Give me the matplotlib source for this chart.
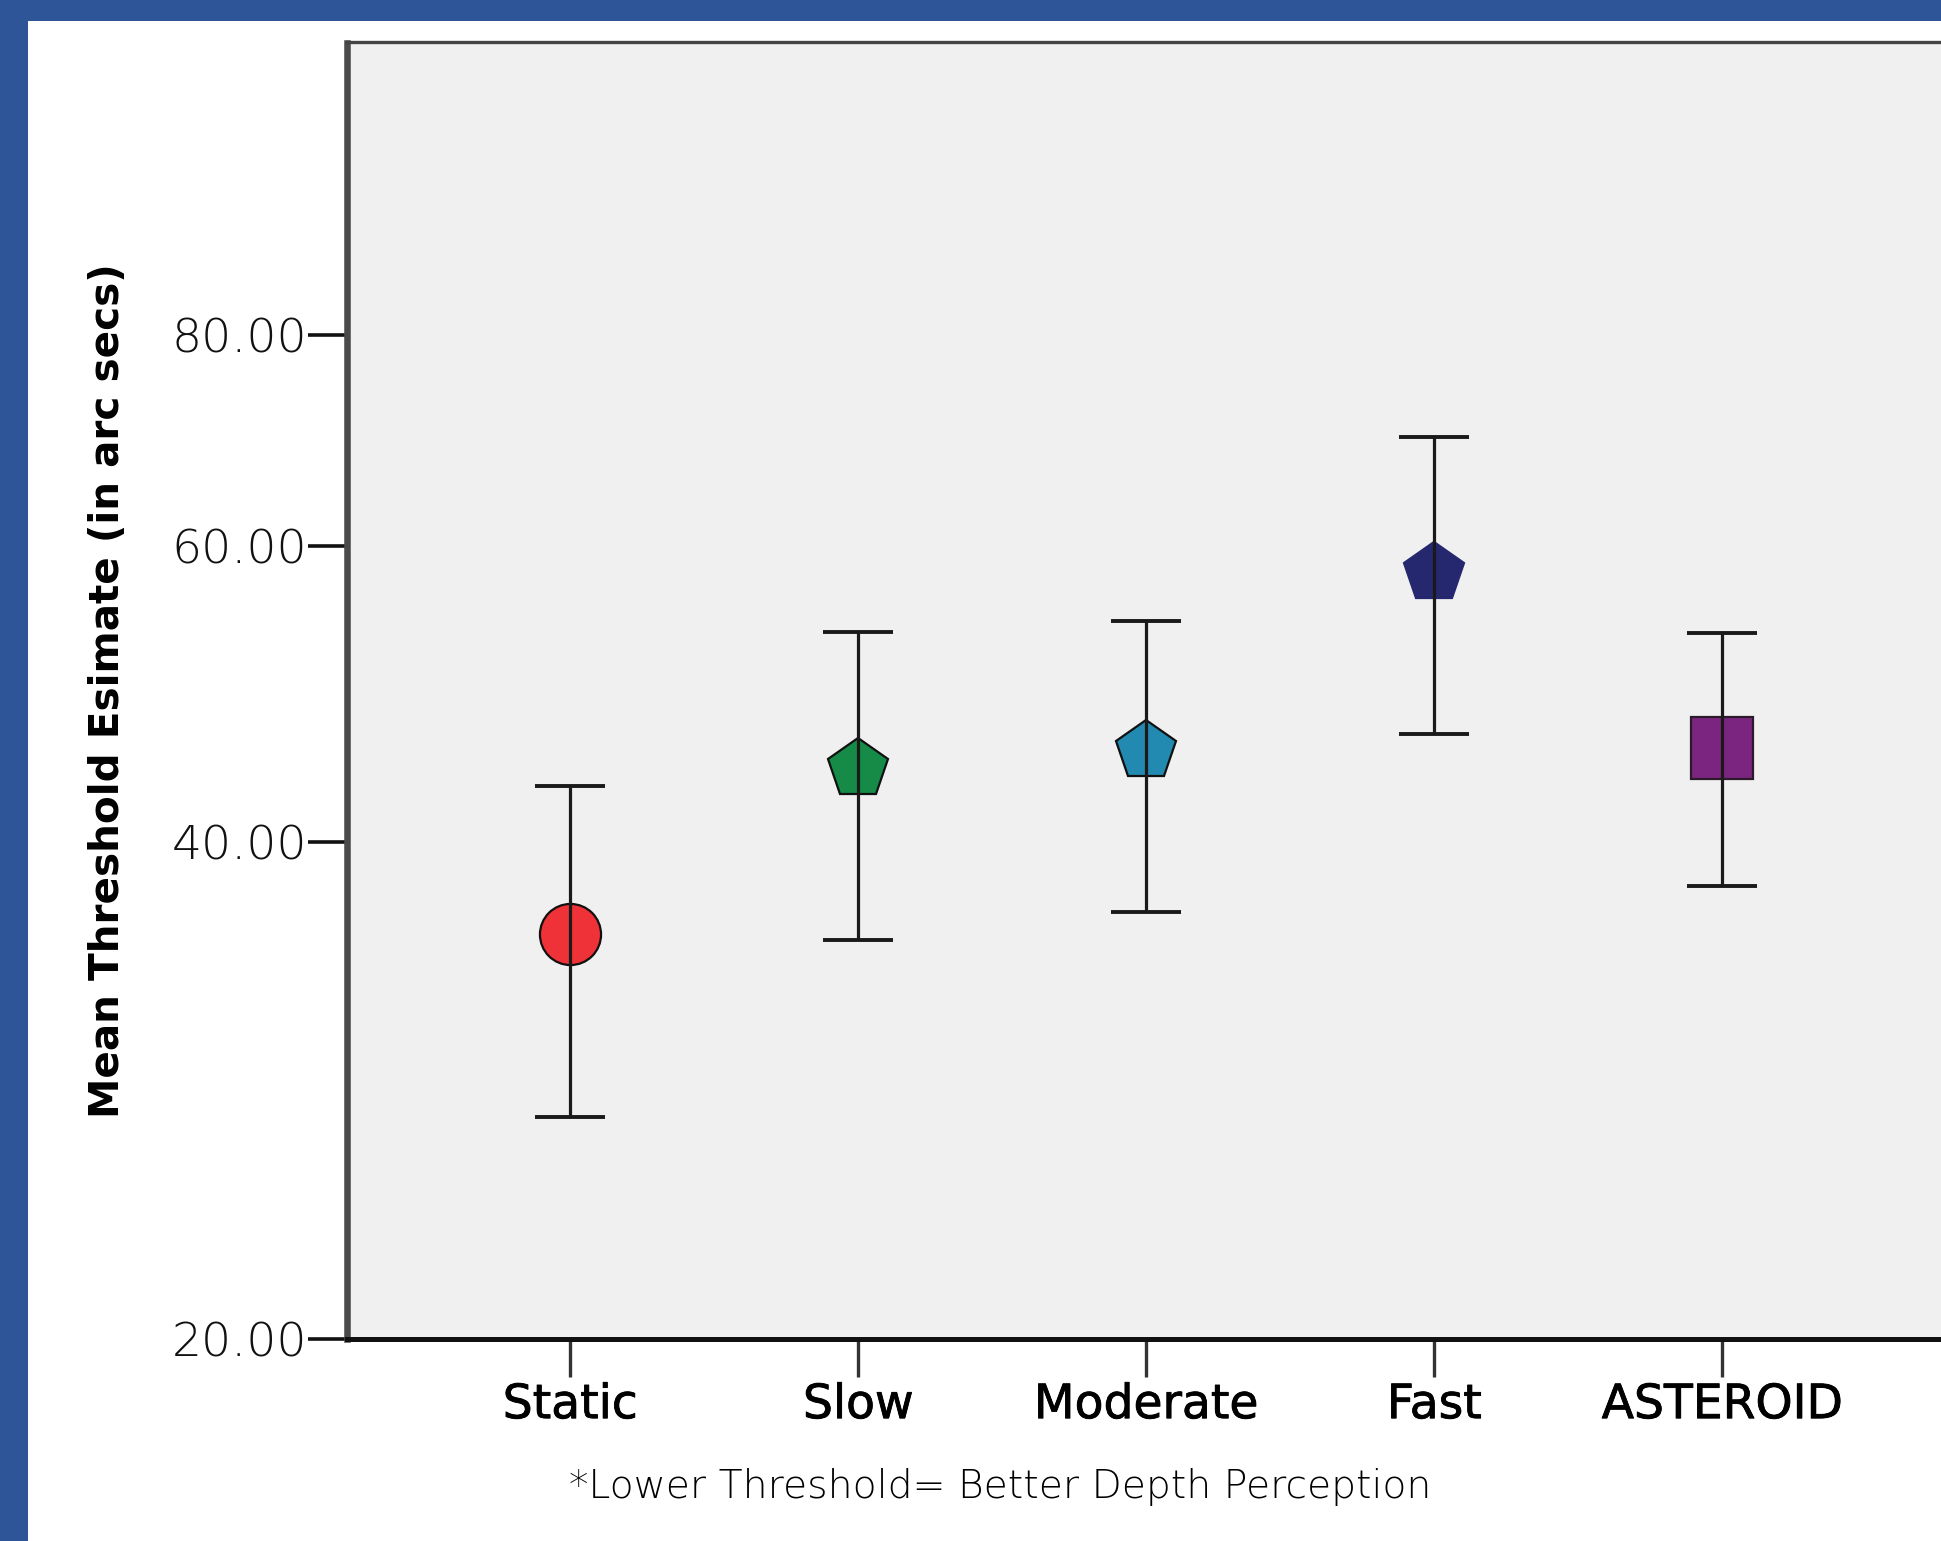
import numpy as np
import matplotlib
matplotlib.use("Agg")
import matplotlib.pyplot as plt
import matplotlib.patheffects as pe
from matplotlib.patches import Rectangle
from matplotlib.ticker import FixedLocator, FixedFormatter, NullLocator

# ---------------- data ----------------
categories = ["Static", "Slow", "Moderate", "Fast", "ASTEROID"]
means = [35.2, 44.2, 45.3, 57.9, 45.5]
ci_lower = [27.3, 34.9, 36.3, 46.4, 37.6]
ci_upper = [43.2, 53.4, 54.2, 69.7, 53.3]
y_ticks = [20, 40, 60, 80]
y_tick_labels = ["20.00", "40.00", "60.00", "80.00"]
marker_shapes = ["o", "p", "p", "p", "s"]
marker_colors = ["#EE3238", "#168A47", "#2289B0", "#25276F", "#7B2580"]
marker_edges = ["#111111", "#111111", "#111111", "#25276F", "#2a1a2a"]
y_label = "Mean Threshold Esimate (in arc secs)"
footnote = "*Lower Threshold= Better Depth Perception"

# ---------------- figure ----------------
W, H = 1941, 1541
fig = plt.figure(figsize=(W / 100, H / 100), dpi=100)
fig.patch.set_facecolor("white")

ax = fig.add_axes([346.5 / W, 1 - 1338.7 / H, 1599.6 / W, (1338.7 - 42.5) / H])
ax.set_facecolor("#F0F0F0")

P = 0.0271
def fwd(v):
    v = np.clip(np.asarray(v, dtype=float), 1e-9, None)
    return v ** P
def inv(u):
    u = np.clip(np.asarray(u, dtype=float), 1e-9, None)
    return u ** (1.0 / P)
ax.set_yscale("function", functions=(fwd, inv))

x = np.arange(len(categories))
for i in range(len(categories)):
    ax.plot(x[i], means[i], linestyle="none", marker=marker_shapes[i],
            markersize=44 if marker_shapes[i] != "p" else 45,
            markerfacecolor=marker_colors[i], markeredgecolor=marker_edges[i],
            markeredgewidth=1.6, zorder=3)

yerr = np.array([np.array(means) - np.array(ci_lower),
                 np.array(ci_upper) - np.array(means)])
ax.errorbar(x, means, yerr=yerr, fmt="none", ecolor="#1a1a1a",
            elinewidth=2.3, capsize=25.5, capthick=2.8, zorder=4)

ax.set_xlim(-0.777, 4.777)
ax.set_ylim(20, 118.7)

ax.yaxis.set_major_locator(FixedLocator(y_ticks))
ax.yaxis.set_major_formatter(FixedFormatter(y_tick_labels))
ax.yaxis.set_minor_locator(NullLocator())
ax.set_xticks(x)
ax.set_xticklabels(categories)

ax.tick_params(axis="y", length=28, width=2.6, color="#111111", pad=0.5,
               labelsize=34, labelcolor="#111111")
ax.tick_params(axis="x", length=27, width=2.4, color="#333333", pad=5,
               labelsize=34, labelcolor="#000000")
for lab in ax.get_yticklabels():
    lab.set_fontweight("light")
for lab in ax.get_xticklabels():
    lab.set_path_effects([pe.withStroke(linewidth=0.6, foreground="black")])

ax.spines["top"].set_color("#444444")
ax.spines["top"].set_linewidth(2.4)
ax.spines["left"].set_color("#4a4a4a")
ax.spines["left"].set_linewidth(4.7)
ax.spines["bottom"].set_color("#111111")
ax.spines["bottom"].set_linewidth(3.6)
ax.spines["right"].set_color("#444444")
ax.spines["right"].set_linewidth(2.4)

fig.text(108 / W, 1 - 691 / H, y_label, rotation=90, ha="center", va="center",
         fontsize=29.2, fontweight="bold", color="#000000")
fig.text(1000 / W, 1 - 1498 / H, footnote, ha="center", va="baseline",
         fontsize=28.3, color="#000000", fontweight="light")

# blue frame
blue = "#2E5597"
fig.add_artist(Rectangle((0, 1 - 21 / H), 1, 21 / H, transform=fig.transFigure,
                         facecolor=blue, edgecolor="none", zorder=10))
fig.add_artist(Rectangle((0, 0), 28 / W, 1, transform=fig.transFigure,
                         facecolor=blue, edgecolor="none", zorder=10))

fig.savefig("out.png", dpi=100)
